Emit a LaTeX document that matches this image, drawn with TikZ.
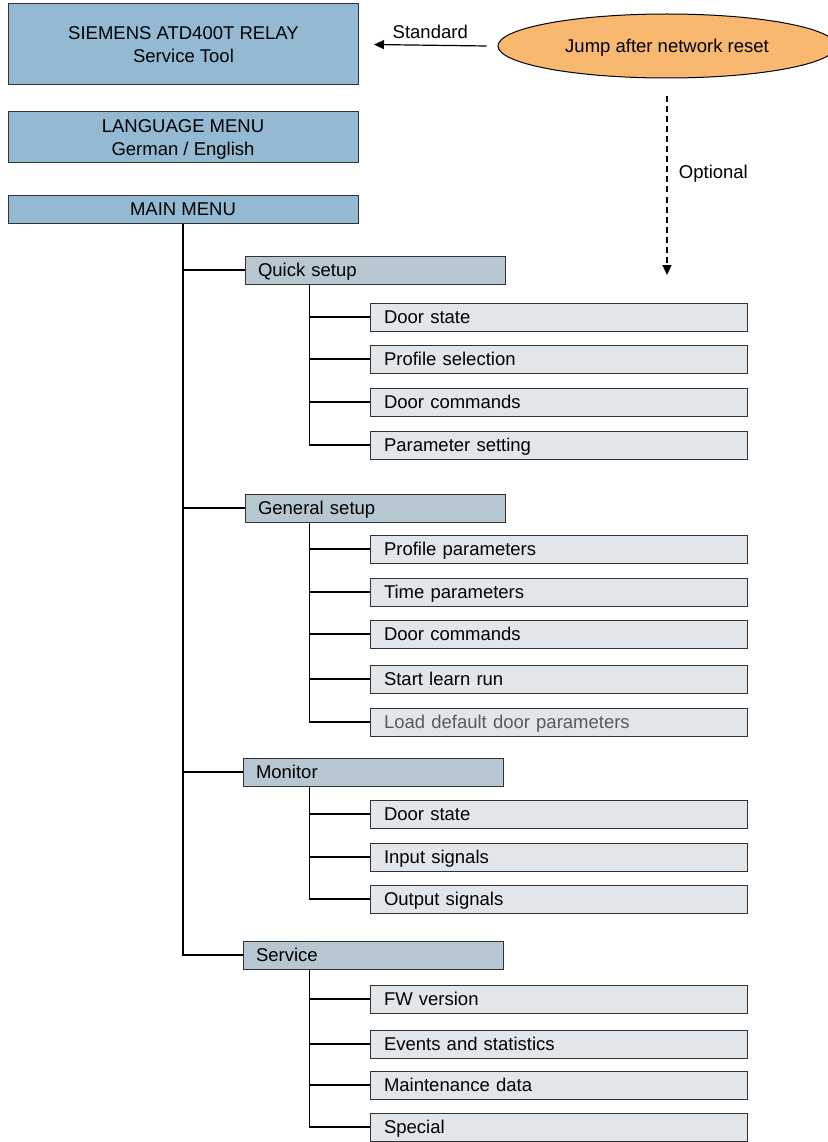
\documentclass[tikz,border=0pt]{standalone}
\usepackage{fontspec}
\setmainfont{Liberation Sans}
\usepackage{tikz}
\usetikzlibrary{positioning}
\usetikzlibrary{shapes.geometric}
\usetikzlibrary{arrows.meta}
\usepackage{xcolor}
\definecolor{topblue}{HTML}{93BAD2}
\definecolor{menublue}{HTML}{B6C7D2}
\definecolor{itemgrey}{HTML}{E1E6EA}
\definecolor{jumporange}{HTML}{F8B870}
\definecolor{dimtext}{HTML}{5A5A5A}

\begin{document}
\begin{tikzpicture}[x=1pt, y=-1pt,
		every node/.style = {font=\fontsize{18.5}{23}\selectfont},
		t/.style = {rectangle, draw=black!80, fill=topblue, line width=1pt, minimum width=350, align=center, inner sep=0, text depth=0pt},
		m/.style = {rectangle, draw=black!80, fill=menublue, line width=1pt, minimum height=28, text width=234, inner xsep=13, inner ysep=0, align=left, text height=14, text depth=1},
		i/.style = {rectangle, draw=black!80, fill=itemgrey, line width=1pt, minimum height=28, text width=349, inner xsep=14, inner ysep=0, align=left, text height=14, text depth=1},
		l/.style = {line width=1.3pt, black},
		r/.style = {-{Triangle[length=10pt, width=9pt]}, line width=1.2pt}
		]
		\useasboundingbox (0,0) rectangle (827,1142);
		
		%Nodes
		\node[t, minimum height=81]	(title)	at	(183.5, 44.5)	{SIEMENS ATD400T RELAY\\Service Tool};
		\node[t, minimum height=51]	(lang)	at	(183, 137.5)	{LANGUAGE MENU\\German / English};
		\node[t, minimum height=28]	(main)	at	(183, 209)		{MAIN MENU};
		\node[ellipse, draw=black, fill=jumporange, line width=1pt, minimum width=338, minimum height=64, text depth=0pt]
									(jump)	at	(667, 46)		{Jump after network reset};
		\coordinate					(opt)	at	(667, 275);
		
		\node[m]	(quick)		at	(375, 270)		{Quick setup};
		\node[i]	(q1)		at	(558.5, 317)	{Door state};
		\node[i]	(q2)		at	(558.5, 359)	{Profile selection};
		\node[i]	(q3)		at	(558.5, 402)	{Door commands};
		\node[i]	(q4)		at	(558.5, 445)	{Parameter setting};
		
		\node[m]	(general)	at	(375, 508)		{General setup};
		\node[i]	(g1)		at	(558.5, 549)	{Profile parameters};
		\node[i]	(g2)		at	(558.5, 592)	{Time parameters};
		\node[i]	(g3)		at	(558.5, 634)	{Door commands};
		\node[i]	(g4)		at	(558.5, 679)	{Start learn run};
		\node[i, text=dimtext]	(g5)	at	(558.5, 722)	{Load default door parameters};
		
		\node[m]	(monitor)	at	(373, 772)		{Monitor};
		\node[i]	(m1)		at	(558.5, 814)	{Door state};
		\node[i]	(m2)		at	(558.5, 857)	{Input signals};
		\node[i]	(m3)		at	(558.5, 899)	{Output signals};
		
		\node[m]	(service)	at	(373, 955)		{Service};
		\node[i]	(s1)		at	(558.5, 999)	{FW version};
		\node[i]	(s2)		at	(558.5, 1044)	{Events and statistics};
		\node[i]	(s3)		at	(558.5, 1085)	{Maintenance data};
		\node[i]	(s4)		at	(558.5, 1127)	{Special};
		
		%Lines
		\draw[r]	([xshift=-11pt]jump.west)	to	node[above=3pt]	{Standard}	([xshift=15pt]title.east);
		\draw[r, dash pattern=on 6pt off 4pt]	([yshift=-18pt]jump.south)	to	node[pos=0.43, right=8pt]	{Optional}	(opt);
		
		\foreach \n in {quick, general, monitor, service}
			\draw[l]	(main.south)	|-	(\n.west);
		
		\foreach \n in {q1, q2, q3, q4}
			\draw[l]	([xshift=65pt]quick.south west)	|-	(\n.west);
		\foreach \n in {g1, g2, g3, g4, g5}
			\draw[l]	([xshift=65pt]general.south west)	|-	(\n.west);
		\foreach \n in {m1, m2, m3}
			\draw[l]	([xshift=67pt]monitor.south west)	|-	(\n.west);
		\foreach \n in {s1, s2, s3, s4}
			\draw[l]	([xshift=67pt]service.south west)	|-	(\n.west);
	\end{tikzpicture}
\end{document}
